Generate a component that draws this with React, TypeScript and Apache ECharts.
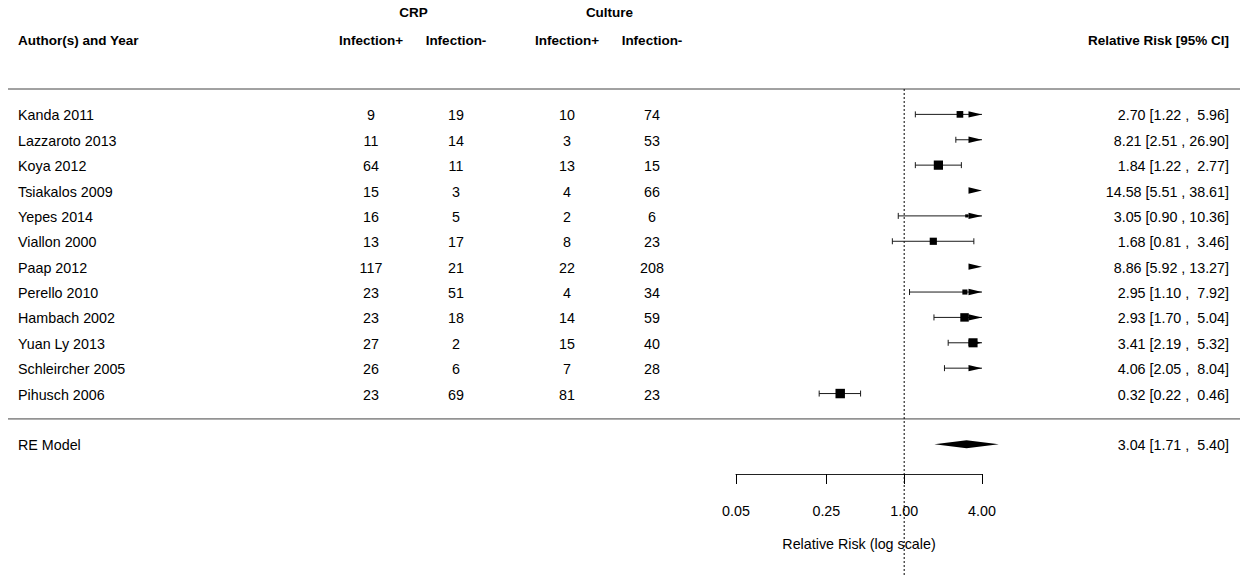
import React, { useEffect, useRef } from "react";
import * as echarts from "echarts";

// ---------- data ----------
const studies = [
  "Kanda 2011",
  "Lazzaroto 2013",
  "Koya 2012",
  "Tsiakalos 2009",
  "Yepes 2014",
  "Viallon 2000",
  "Paap 2012",
  "Perello 2010",
  "Hambach 2002",
  "Yuan Ly 2013",
  "Schleircher 2005",
  "Pihusch 2006",
];
const crpPos = [9, 11, 64, 15, 16, 13, 117, 23, 23, 27, 26, 23];
const crpNeg = [19, 14, 11, 3, 5, 17, 21, 51, 18, 2, 6, 69];
const culPos = [10, 3, 13, 4, 2, 8, 22, 4, 14, 15, 7, 81];
const culNeg = [74, 53, 15, 66, 6, 23, 208, 34, 59, 40, 28, 23];
const rr = [2.7, 8.21, 1.84, 14.58, 3.05, 1.68, 8.86, 2.95, 2.93, 3.41, 4.06, 0.32];
const ciLow = [1.22, 2.51, 1.22, 5.51, 0.9, 0.81, 5.92, 1.1, 1.7, 2.19, 2.05, 0.22];
const ciHigh = [5.96, 26.9, 2.77, 38.61, 10.36, 3.46, 13.27, 7.92, 5.04, 5.32, 8.04, 0.46];

const summaryLabel = "RE Model";
const summaryEst = [3.04];
const summaryLow = [1.71];
const summaryHigh = [5.4];

const axisTicks = [0.05, 0.25, 1, 4];
const axisTitle = "Relative Risk (log scale)";

const headerGroups = ["CRP", "Culture"];
const headerCols = ["Infection+", "Infection-", "Infection+", "Infection-"];
const headerStudy = "Author(s) and Year";
const headerRight = "Relative Risk [95% CI]";

// ---------- layout / style ----------
const K = studies.length;
const A_MIN = axisTicks[0];
const A_MAX = axisTicks[axisTicks.length - 1];
const FONT = '"Liberation Sans", Arial, Helvetica, sans-serif';
const FS = 14.3;
const FS_BOLD = 13.5;
const GRID_TOP = 89;
const GRID_H = 385;
const Y_MAX = 13;
const Y_MIN = -2.17;
const COL_NAME = 18;
const COL_X = [371, 456, 567, 652];
const COL_GROUP = [413.5, 609.5];
const COL_RIGHT = 1229;
const HEADER_ROW = 14.9;
const GROUP_ROW = 16;
const LINE_COLOR = "#444";
const CI_COLOR = "#1a1a1a";

const Z = 1.959964;
const seOf = (l: number, u: number) => (Math.log(u) - Math.log(l)) / (2 * Z);
const vi = ciLow.map((l, i) => seOf(l, ciHigh[i]) ** 2);
const vRE = seOf(summaryLow[0], summaryHigh[0]) ** 2;
function solveTau2() {
  let lo = 0;
  let hi = 20;
  for (let it = 0; it < 200; it++) {
    const mid = (lo + hi) / 2;
    const s = vi.reduce((a, v) => a + 1 / (v + mid), 0);
    if (s > 1 / vRE) lo = mid;
    else hi = mid;
  }
  return (lo + hi) / 2;
}
const tau2 = solveTau2();
const wts = vi.map((v) => 1 / (v + tau2));
const wMin = Math.min(...wts);
const wMax = Math.max(...wts);
const squarePx = wts.map((w) => 6.3 * (0.5 + (w - wMin) / (wMax - wMin)));

const f2 = (v: number) => v.toFixed(2);
const ciText = (e: number, l: number, u: number) =>
  `${f2(e)} [${f2(l)} , ${u < 10 ? "\u00A0" : ""}${f2(u)}]`;

function txt(x: number, y: number, text: string, align: string, bold = false) {
  return {
    type: "text",
    x,
    y,
    style: {
      text,
      fill: "#000",
      font: `${bold ? "bold " : ""}${bold ? FS_BOLD : FS}px ${FONT}`,
      align,
      verticalAlign: "middle",
    },
  };
}

export default function App() {
  const ref = useRef<HTMLDivElement>(null);

  useEffect(() => {
    if (!ref.current) return;
    const chart = echarts.init(ref.current, undefined, { renderer: "svg" });

    const forestData = rr.map((e, i) => [e, K - i, ciLow[i], ciHigh[i], squarePx[i]]);
    const tableData = studies.map((_, i) => [i, K - i]);

    const option: any = {
      animation: false,
      backgroundColor: "#fff",
      grid: [
        { left: 736, width: 246, top: GRID_TOP, height: GRID_H, outerBoundsMode: "none", containLabel: false },
        { left: 0, width: 1241, top: GRID_TOP, height: GRID_H, outerBoundsMode: "none", containLabel: false },
      ],
      xAxis: [
        {
          type: "log",
          gridIndex: 0,
          min: A_MIN,
          max: A_MAX,
          logBase: 10,
          position: "bottom",
          splitLine: { show: false },
          axisLine: { show: true, onZero: false, lineStyle: { color: "#222", width: 1 } },
          axisTick: { show: true, length: 10, customValues: axisTicks, lineStyle: { color: "#000", width: 1 } },
          axisLabel: {
            customValues: axisTicks,
            formatter: (v: number) => Number(v).toFixed(2),
            margin: 30,
            color: "#000",
            fontSize: FS,
            fontFamily: FONT,
          },
          name: axisTitle,
          nameLocation: "middle",
          nameGap: 63,
          nameTextStyle: { color: "#000", fontSize: FS, fontFamily: FONT },
        },
        { type: "value", gridIndex: 1, min: 0, max: 1241, show: false },
      ],
      yAxis: [
        { type: "value", gridIndex: 0, min: Y_MIN, max: Y_MAX, show: false },
        { type: "value", gridIndex: 1, min: Y_MIN, max: Y_MAX, show: false },
      ],
      series: [
        // horizontal separator lines
        {
          type: "custom",
          xAxisIndex: 1,
          yAxisIndex: 1,
          data: [[0, Y_MAX], [0, 0]],
          encode: { x: 0, y: 1 },
          silent: true,
          renderItem: (params: any, api: any) => {
            const row = api.value(1);
            const a = api.coord([8, row]);
            const b = api.coord([1240, row]);
            return {
              type: "line",
              shape: { x1: a[0], y1: a[1], x2: b[0], y2: b[1] },
              style: { stroke: LINE_COLOR, lineWidth: 1 },
            };
          },
        },
        // reference line at RR = 1
        {
          type: "custom",
          xAxisIndex: 0,
          yAxisIndex: 0,
          data: [[1, Y_MAX]],
          encode: { x: 0, y: 1 },
          silent: true,
          renderItem: (params: any, api: any) => {
            const a = api.coord([1, Y_MAX]);
            const b = api.coord([1, -6.6]);
            return {
              type: "line",
              shape: { x1: a[0], y1: a[1], x2: b[0], y2: b[1] },
              style: { stroke: "#000", lineWidth: 1, lineDash: [2, 2] },
            };
          },
        },
        // study estimates
        {
          type: "custom",
          xAxisIndex: 0,
          yAxisIndex: 0,
          data: forestData,
          encode: { x: 0, y: 1 },
          silent: true,
          renderItem: (params: any, api: any) => {
            const est = api.value(0);
            const row = api.value(1);
            const lb = api.value(2);
            const ub = api.value(3);
            const sz = api.value(4);
            const X = (v: number) => api.coord([v, row])[0];
            const y = api.coord([1, row])[1];
            const ch: any[] = [];
            const ls = { stroke: CI_COLOR, lineWidth: 1 };
            if (ub > A_MIN && lb < A_MAX) {
              ch.push({
                type: "line",
                shape: { x1: X(Math.max(lb, A_MIN)), y1: y, x2: X(Math.min(ub, A_MAX)), y2: y },
                style: ls,
              });
            }
            const cap = (x: number) => ({ type: "line", shape: { x1: x, y1: y - 3, x2: x, y2: y + 3 }, style: ls });
            if (lb >= A_MIN && lb <= A_MAX) ch.push(cap(X(lb)));
            if (ub >= A_MIN && ub <= A_MAX) ch.push(cap(X(ub)));
            if (est >= A_MIN && est <= A_MAX) {
              const cx = X(est);
              ch.push({ type: "rect", shape: { x: cx - sz / 2, y: y - sz / 2, width: sz, height: sz }, style: { fill: "#000" } });
            }
            if (ub > A_MAX) {
              const t = X(A_MAX);
              ch.push({ type: "polygon", shape: { points: [[t, y], [t - 13.5, y - 3.2], [t - 13.5, y + 3.2]] }, style: { fill: "#000" } });
            }
            if (lb < A_MIN) {
              const t = X(A_MIN);
              ch.push({ type: "polygon", shape: { points: [[t, y], [t + 13.5, y - 3.2], [t + 13.5, y + 3.2]] }, style: { fill: "#000" } });
            }
            return { type: "group", children: ch };
          },
        },
        // summary diamond
        {
          type: "custom",
          xAxisIndex: 0,
          yAxisIndex: 0,
          data: summaryEst.map((e, i) => [e, -1, summaryLow[i], summaryHigh[i]]),
          encode: { x: 0, y: 1 },
          silent: true,
          renderItem: (params: any, api: any) => {
            const row = api.value(1);
            const c = api.coord([api.value(0), row]);
            const l = api.coord([api.value(2), row]);
            const r = api.coord([api.value(3), row]);
            return {
              type: "polygon",
              shape: { points: [[l[0], c[1]], [c[0], c[1] - 4], [r[0], c[1]], [c[0], c[1] + 4]] },
              style: { fill: "#000" },
            };
          },
        },
        // table text
        {
          type: "custom",
          xAxisIndex: 1,
          yAxisIndex: 1,
          data: tableData,
          encode: { x: 0, y: 1 },
          silent: true,
          renderItem: (params: any, api: any) => {
            const i = api.value(0);
            const row = api.value(1);
            const y = api.coord([0, row])[1] + 1;
            const X = (v: number) => api.coord([v, row])[0];
            return {
              type: "group",
              children: [
                txt(X(COL_NAME), y, studies[i], "left"),
                txt(X(COL_X[0]), y, String(crpPos[i]), "center"),
                txt(X(COL_X[1]), y, String(crpNeg[i]), "center"),
                txt(X(COL_X[2]), y, String(culPos[i]), "center"),
                txt(X(COL_X[3]), y, String(culNeg[i]), "center"),
                txt(X(COL_RIGHT), y, ciText(rr[i], ciLow[i], ciHigh[i]), "right"),
              ],
            };
          },
        },
        // summary text
        {
          type: "custom",
          xAxisIndex: 1,
          yAxisIndex: 1,
          data: summaryEst.map((e, i) => [i, -1]),
          encode: { x: 0, y: 1 },
          silent: true,
          renderItem: (params: any, api: any) => {
            const i = api.value(0);
            const row = api.value(1);
            const y = api.coord([0, row])[1] + 1;
            const X = (v: number) => api.coord([v, row])[0];
            return {
              type: "group",
              children: [
                txt(X(COL_NAME), y, summaryLabel, "left"),
                txt(X(COL_RIGHT), y, ciText(summaryEst[i], summaryLow[i], summaryHigh[i]), "right"),
              ],
            };
          },
        },
        // headers
        {
          type: "custom",
          xAxisIndex: 1,
          yAxisIndex: 1,
          data: [[0, HEADER_ROW]],
          encode: { x: 0, y: 1 },
          silent: true,
          renderItem: (params: any, api: any) => {
            const yH = api.coord([0, HEADER_ROW])[1];
            const yG = api.coord([0, GROUP_ROW])[1];
            const X = (v: number) => api.coord([v, HEADER_ROW])[0];
            return {
              type: "group",
              children: [
                txt(X(COL_NAME), yH, headerStudy, "left", true),
                ...headerCols.map((h, j) => txt(X(COL_X[j]), yH, h, "center", true)),
                ...headerGroups.map((h, j) => txt(X(COL_GROUP[j]), yG, h, "center", true)),
                txt(X(COL_RIGHT), yH, headerRight, "right", true),
              ],
            };
          },
        },
      ],
    };

    chart.setOption(option);
    return () => chart.dispose();
  }, []);

  return (
    <div
      ref={ref}
      style={{ position: "absolute", left: 0, top: 0, width: 1241, height: 576, background: "#fff" }}
    />
  );
}
